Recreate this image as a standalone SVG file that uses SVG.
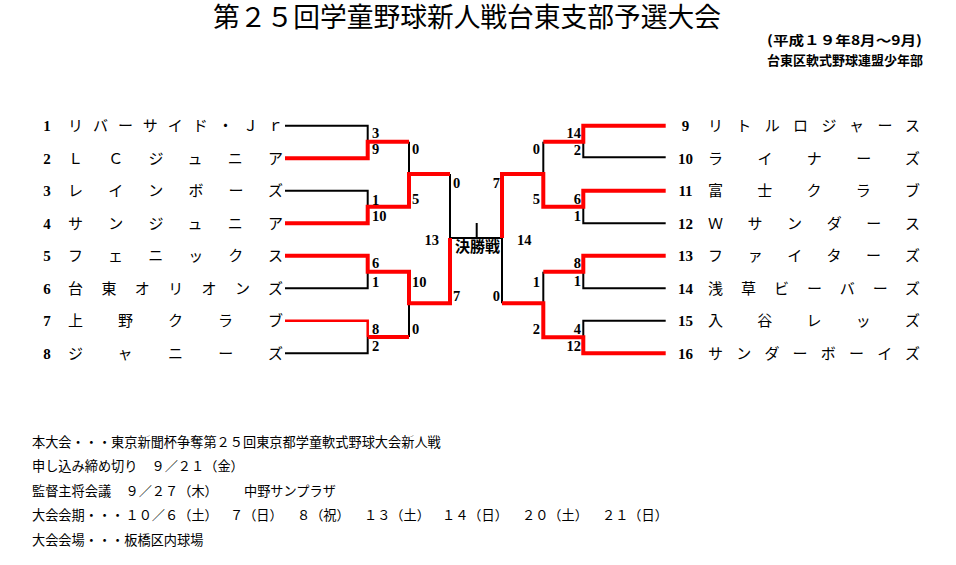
<svg xmlns="http://www.w3.org/2000/svg" width="956" height="565" viewBox="0 0 956 565">
<style>
.bg{fill:#fff}
.jp{font-family:"Noto Sans CJK JP","Noto Sans",sans-serif;fill:#000}
.title{font-size:27px}
.sub{font-size:13px;font-weight:bold}
.foot{font-size:13.2px}
.name{font-size:15px}
.num{font-family:"Liberation Serif",serif;font-weight:bold;font-size:15px;fill:#000}
.sc{font-family:"Liberation Serif",serif;font-weight:bold;font-size:14.5px;fill:#000}
.blk{fill:none;stroke:#000;stroke-width:2}
.red{fill:none;stroke:#f00;stroke-width:4;stroke-linejoin:miter}
.redt{fill:none;stroke:#f00;stroke-width:2.5}
.e{text-anchor:end}
.m{text-anchor:middle}
</style>
<rect class="bg" x="0" y="0" width="956" height="565"/>

<g id="header">
<text class="jp title" x="213" y="27" textLength="508" lengthAdjust="spacingAndGlyphs">第２５回学童野球新人戦台東支部予選大会</text>
<text class="jp sub" x="767" y="44.5" textLength="155" lengthAdjust="spacingAndGlyphs">(平成１９年8月～9月)</text>
<text class="jp sub" x="767" y="64.5" textLength="156" lengthAdjust="spacingAndGlyphs">台東区軟式野球連盟少年部</text>
</g>

<g id="connectors">
<path class="blk" d="M285,125.7 H367.7 V141.7"/>
<path class="blk" d="M285,190.7 H367.7 V206.7"/>
<path class="blk" d="M409,141.7 V174"/>
<path class="blk" d="M450,174 V238"/>
<path class="blk" d="M285,288.3 H367.7 V271.7"/>
<path class="blk" d="M285,353.3 H367.7 V337"/>
<path class="blk" d="M409,303.3 V337"/>
<path class="blk" d="M665.7,157.3 H583.3 V141.7"/>
<path class="blk" d="M543.3,141.7 V174"/>
<path class="blk" d="M665.7,223.3 H583.3 V206.7"/>
<path class="blk" d="M665.7,288.3 H583.3 V271.7"/>
<path class="blk" d="M665.7,320.7 H583.3 V337.3"/>
<path class="blk" d="M543.3,271.7 V303.3"/>
<path class="blk" d="M502,238 V303.3"/>
<path class="blk" d="M450,238 H502" stroke-width="2.5"/>
<path class="blk" d="M476.7,223 V238" stroke-width="1"/>
<path class="red" d="M285,158.3 H367.7 V141.7 H409"/>
<path class="red" d="M285,223.3 H367.7 V206.7 H409 V174 H450"/>
<path class="red" d="M285,255.7 H367.7 V271.7 H409 V303.3 H450 V238"/>
<path class="redt" d="M285,320.7 H367.7 V337"/>
<path class="red" d="M367.7,337 H409"/>
<path class="red" d="M665.7,125.7 H583.3 V141.7 H543.3"/>
<path class="red" d="M665.7,190.7 H583.3 V206.7 H543.3 V174 H502 V238"/>
<path class="red" d="M665.7,255.7 H583.3 V271.7 H543.3"/>
<path class="red" d="M665.7,353.3 H583.3 V337.3 H543.3 V303.3 H502"/>
</g>

<g id="scores">
<text class="sc" x="372" y="138">3</text>
<text class="sc" x="372" y="154">9</text>
<text class="sc" x="372" y="205">1</text>
<text class="sc" x="372" y="220.7">10</text>
<text class="sc" x="372" y="268">6</text>
<text class="sc" x="372" y="286.7">1</text>
<text class="sc" x="372" y="334">8</text>
<text class="sc" x="372" y="350.7">2</text>
<text class="sc" x="412" y="154">0</text>
<text class="sc" x="412" y="204">5</text>
<text class="sc" x="412" y="286.7">10</text>
<text class="sc" x="412" y="334">0</text>
<text class="sc" x="453" y="188">0</text>
<text class="sc" x="453" y="301">7</text>
<text class="sc e" x="439" y="245">13</text>
<text class="sc" x="517" y="245">14</text>
<text class="sc e" x="500" y="188">7</text>
<text class="sc e" x="500" y="301">0</text>
<text class="sc e" x="540" y="154">0</text>
<text class="sc e" x="540" y="204">5</text>
<text class="sc e" x="540" y="287">1</text>
<text class="sc e" x="540" y="334">2</text>
<text class="sc e" x="581" y="138">14</text>
<text class="sc e" x="581" y="155">2</text>
<text class="sc e" x="581" y="204">6</text>
<text class="sc e" x="581" y="220.7">1</text>
<text class="sc e" x="581" y="268">8</text>
<text class="sc e" x="581" y="286">1</text>
<text class="sc e" x="581" y="334">4</text>
<text class="sc e" x="581" y="350.5">12</text>
</g>

<g id="final">
<text class="jp" x="455" y="252" font-size="15" font-weight="bold">決勝戦</text>
</g>

<g id="team1"><text class="num m" x="47" y="131">1</text><text class="jp name" x="68" y="131.2" textLength="215" lengthAdjust="spacing">リバーサイド・Ｊｒ</text></g>
<g id="team2"><text class="num m" x="47" y="163.5">2</text><text class="jp name" x="68" y="163.8" textLength="215" lengthAdjust="spacing">ＬＣジュニア</text></g>
<g id="team3"><text class="num m" x="47" y="196">3</text><text class="jp name" x="68" y="196.2" textLength="215" lengthAdjust="spacing">レインボーズ</text></g>
<g id="team4"><text class="num m" x="47" y="228.5">4</text><text class="jp name" x="68" y="228.8" textLength="215" lengthAdjust="spacing">サンジュニア</text></g>
<g id="team5"><text class="num m" x="47" y="261">5</text><text class="jp name" x="68" y="261.2" textLength="215" lengthAdjust="spacing">フェニックス</text></g>
<g id="team6"><text class="num m" x="47" y="293.5">6</text><text class="jp name" x="68" y="293.8" textLength="215" lengthAdjust="spacing">台東オリオンズ</text></g>
<g id="team7"><text class="num m" x="47" y="326">7</text><text class="jp name" x="68" y="326.2" textLength="215" lengthAdjust="spacing">上野クラブ</text></g>
<g id="team8"><text class="num m" x="47" y="358.5">8</text><text class="jp name" x="68" y="358.8" textLength="215" lengthAdjust="spacing">ジャニーズ</text></g>

<g id="team9"><text class="num m" x="685.5" y="131">9</text><text class="jp name" x="708" y="131.2" textLength="212" lengthAdjust="spacing">リトルロジャース</text></g>
<g id="team10"><text class="num m" x="685.5" y="163.5">10</text><text class="jp name" x="708" y="163.8" textLength="212" lengthAdjust="spacing">ライナーズ</text></g>
<g id="team11"><text class="num m" x="685.5" y="196">11</text><text class="jp name" x="708" y="196.2" textLength="212" lengthAdjust="spacing">富士クラブ</text></g>
<g id="team12"><text class="num m" x="685.5" y="228.5">12</text><text class="jp name" x="708" y="228.8" textLength="212" lengthAdjust="spacing">Ｗサンダース</text></g>
<g id="team13"><text class="num m" x="685.5" y="261">13</text><text class="jp name" x="708" y="261.2" textLength="212" lengthAdjust="spacing">ファイターズ</text></g>
<g id="team14"><text class="num m" x="685.5" y="293.5">14</text><text class="jp name" x="708" y="293.8" textLength="212" lengthAdjust="spacing">浅草ビーバーズ</text></g>
<g id="team15"><text class="num m" x="685.5" y="326">15</text><text class="jp name" x="708" y="326.2" textLength="212" lengthAdjust="spacing">入谷レッズ</text></g>
<g id="team16"><text class="num m" x="685.5" y="358.5">16</text><text class="jp name" x="708" y="358.8" textLength="212" lengthAdjust="spacing">サンダーボーイズ</text></g>

<g id="notes">
<text class="jp foot" x="32" y="446.5">本大会・・・東京新聞杯争奪第２５回東京都学童軟式野球大会新人戦</text>
<text class="jp foot" x="32" y="471.2">申し込み締め切り<tspan x="151.5">９／２１（金）</tspan></text>
<text class="jp foot" x="32" y="496.2">監督主将会議<tspan x="125.5">９／２７（木）</tspan><tspan x="244">中野サンプラザ</tspan></text>
<text class="jp foot" x="32" y="519.8">大会会期・・・<tspan x="125.5">１０／６（土）</tspan><tspan x="230">７（日）</tspan><tspan x="297">８（祝）</tspan><tspan x="364">１３（土）</tspan><tspan x="442">１４（日）</tspan><tspan x="522">２０（土）</tspan><tspan x="602">２１（日）</tspan></text>
<text class="jp foot" x="32" y="544.5">大会会場・・・板橋区内球場</text>
</g>
</svg>
